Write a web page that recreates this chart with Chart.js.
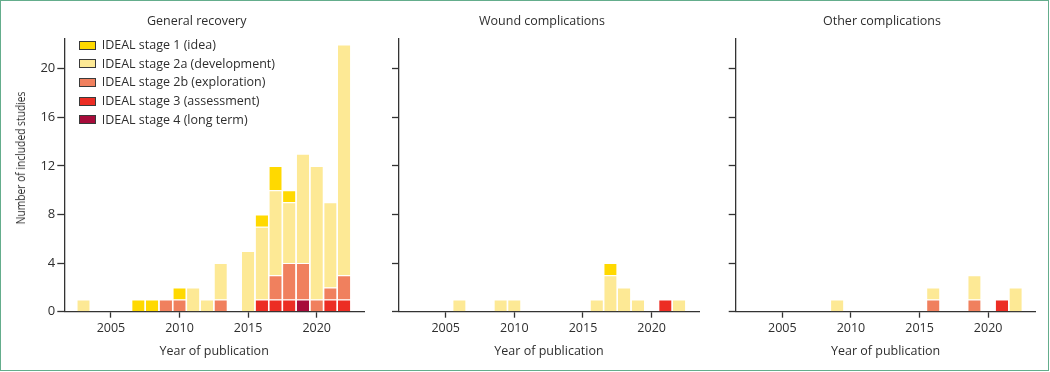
<!DOCTYPE html>
<html>
<head>
<meta charset="utf-8">
<script src="https://cdn.jsdelivr.net/npm/chart.js@4.4.0/dist/chart.umd.min.js"></script>
<style>
  body { margin: 0; background: #fff; font-family: "Open Sans", sans-serif; color: #2e2e2e; }
  #frame { position: absolute; left: 0; top: 0; width: 1049px; height: 371px; box-sizing: border-box; border: 1.5px solid #64ad8c; }
  .panel { position: absolute; top: 0; }
  .title { position: absolute; top: 13px; width: 240px; text-align: center; font-size: 12.5px; line-height: 16px; white-space: nowrap; }
  #ytitle { position: absolute; left: -79.3px; top: 150px; width: 200px; text-align: center; font-size: 12.5px; line-height: 16px; white-space: nowrap; }
  #ytitle span { display: inline-block; }
  #legend { position: absolute; left: 79px; top: 36px; font-size: 12.5px; }
  .item { height: 18.7px; line-height: 18px; white-space: nowrap; }
  .box { display: inline-block; width: 17px; height: 9px; box-sizing: border-box; border: 1px solid #3a3a3a; vertical-align: -0.5px; margin-right: 5.7px; }
</style>
</head>
<body>
<div id="frame"></div>
<div class="panel" style="left:0"><canvas id="c1" width="370" height="372"></canvas></div>
<div class="panel" style="left:370px"><canvas id="c2" width="340" height="372"></canvas></div>
<div class="panel" style="left:710px"><canvas id="c3" width="338" height="372"></canvas></div>
<div class="title" style="left:76.7px">General recovery</div>
<div class="title" style="left:422px">Wound complications</div>
<div class="title" style="left:762px">Other complications</div>
<div id="ytitle"><span>Number of included studies</span></div>
<div id="legend"></div>
<script>
const years = [2003, 2004, 2005, 2006, 2007, 2008, 2009, 2010, 2011, 2012,
  2013, 2014, 2015, 2016, 2017, 2018, 2019, 2020, 2021, 2022];
const xTicks = [2005, 2010, 2015, 2020];
const yTicks = [0, 4, 8, 12, 16, 20];

const stageNames = [
  "IDEAL stage 1 (idea)",
  "IDEAL stage 2a (development)",
  "IDEAL stage 2b (exploration)",
  "IDEAL stage 3 (assessment)",
  "IDEAL stage 4 (long term)"
];
const stageColors = ["#ffd900", "#fde995", "#f0805e", "#ec2d24", "#a70b3a"];

// General recovery (one value per year, 0 = no study)
const recoveryS1  = [0, 0, 0, 0, 1, 1, 0, 1, 0, 0, 0, 0, 0, 1, 2, 1, 0, 0, 0, 0];
const recoveryS2a = [1, 0, 0, 0, 0, 0, 0, 0, 2, 1, 3, 0, 5, 6, 7, 5, 9, 11, 7, 19];
const recoveryS2b = [0, 0, 0, 0, 0, 0, 1, 1, 0, 0, 1, 0, 0, 0, 2, 3, 3, 1, 1, 2];
const recoveryS3  = [0, 0, 0, 0, 0, 0, 0, 0, 0, 0, 0, 0, 0, 1, 1, 1, 0, 0, 1, 1];
const recoveryS4  = [0, 0, 0, 0, 0, 0, 0, 0, 0, 0, 0, 0, 0, 0, 0, 0, 1, 0, 0, 0];

// Wound complications
const woundS1  = [0, 0, 0, 0, 0, 0, 0, 0, 0, 0, 0, 0, 0, 0, 1, 0, 0, 0, 0, 0];
const woundS2a = [0, 0, 0, 1, 0, 0, 1, 1, 0, 0, 0, 0, 0, 1, 3, 2, 1, 0, 0, 1];
const woundS2b = [0, 0, 0, 0, 0, 0, 0, 0, 0, 0, 0, 0, 0, 0, 0, 0, 0, 0, 0, 0];
const woundS3  = [0, 0, 0, 0, 0, 0, 0, 0, 0, 0, 0, 0, 0, 0, 0, 0, 0, 0, 1, 0];
const woundS4  = [0, 0, 0, 0, 0, 0, 0, 0, 0, 0, 0, 0, 0, 0, 0, 0, 0, 0, 0, 0];

// Other complications
const otherS1  = [0, 0, 0, 0, 0, 0, 0, 0, 0, 0, 0, 0, 0, 0, 0, 0, 0, 0, 0, 0];
const otherS2a = [0, 0, 0, 0, 0, 0, 1, 0, 0, 0, 0, 0, 0, 1, 0, 0, 2, 0, 0, 2];
const otherS2b = [0, 0, 0, 0, 0, 0, 0, 0, 0, 0, 0, 0, 0, 1, 0, 0, 1, 0, 0, 0];
const otherS3  = [0, 0, 0, 0, 0, 0, 0, 0, 0, 0, 0, 0, 0, 0, 0, 0, 0, 0, 1, 0];
const otherS4  = [0, 0, 0, 0, 0, 0, 0, 0, 0, 0, 0, 0, 0, 0, 0, 0, 0, 0, 0, 0];

const axisColor = "#333333";
const textColor = "#2e2e2e";
const fontFamily = '"Open Sans", sans-serif';

// legend (only shown on the first panel)
const legendEl = document.getElementById("legend");
stageNames.forEach((name, i) => {
  const row = document.createElement("div");
  row.className = "item";
  row.innerHTML = '<span class="box" style="background:' + stageColors[i] + '"></span>' + name;
  legendEl.appendChild(row);
});

// y title is condensed in the original figure
const ySpan = document.querySelector("#ytitle span");
const yScale = 133 / ySpan.offsetWidth;
document.getElementById("ytitle").style.transform = "rotate(-90deg) scaleX(" + yScale + ")";

function makeChart(id, series, opts) {
  // bottom of the stack first: stage 4, 3, 2b, 2a, 1
  const order = [4, 3, 2, 1, 0];
  return new Chart(document.getElementById(id), {
    type: "bar",
    data: {
      labels: years,
      datasets: order.map((k) => ({
        label: stageNames[k],
        data: series[k].map((v) => (v ? v : null)),
        backgroundColor: stageColors[k],
        borderColor: "rgba(255,255,255,0.8)",
        borderWidth: { top: 1, right: 0, bottom: 0, left: 0 },
        borderSkipped: "start",
        barPercentage: 0.9,
        categoryPercentage: 1,
      })),
    },
    options: {
      responsive: false,
      animation: false,
      events: [],
      layout: { padding: { top: 38.3, right: opts.padRight, bottom: 0, left: 0 } },
      plugins: {
        legend: { display: false },
        tooltip: { enabled: false },
      },
      scales: {
        x: {
          type: "linear",
          stacked: true,
          min: 2001.6,
          max: 2023.45,
          offset: false,
          afterBuildTicks: (s) => {
            s.ticks = xTicks.map((v) => ({ value: v }));
          },
          afterFit: (s) => {
            s.height = 60.3;
          },
          grid: {
            offset: false,
            drawOnChartArea: false,
            drawTicks: true,
            tickLength: 6,
            tickWidth: 1.3,
            tickColor: axisColor,
          },
          border: { display: true, color: axisColor, width: 1.3 },
          ticks: {
            color: textColor,
            font: { family: fontFamily, size: 12.5 },
            padding: 3,
            maxRotation: 0,
            callback: (v) => String(v),
          },
          title: {
            display: true,
            text: "Year of publication",
            color: textColor,
            font: { family: fontFamily, size: 12.5 },
            padding: { top: 0, bottom: 13 },
          },
        },
        y: {
          stacked: true,
          min: 0,
          max: 22.5,
          afterBuildTicks: (s) => {
            s.ticks = yTicks.map((v) => ({ value: v }));
          },
          afterFit: (s) => {
            s.width = opts.yWidth;
          },
          grid: {
            drawOnChartArea: false,
            drawTicks: true,
            tickLength: 7,
            tickWidth: 1.3,
            tickColor: axisColor,
          },
          border: { display: true, color: axisColor, width: 1.3 },
          ticks: {
            display: opts.showY,
            color: textColor,
            font: { family: fontFamily, size: 13 },
            padding: 2,
          },
        },
      },
    },
  });
}

makeChart("c1", [recoveryS1, recoveryS2a, recoveryS2b, recoveryS3, recoveryS4],
  { yWidth: 64.3, padRight: 6, showY: true });
makeChart("c2", [woundS1, woundS2a, woundS2b, woundS3, woundS4],
  { yWidth: 29, padRight: 11, showY: false });
makeChart("c3", [otherS1, otherS2a, otherS2b, otherS3, otherS4],
  { yWidth: 25.7, padRight: 12.5, showY: false });
</script>
</body>
</html>
